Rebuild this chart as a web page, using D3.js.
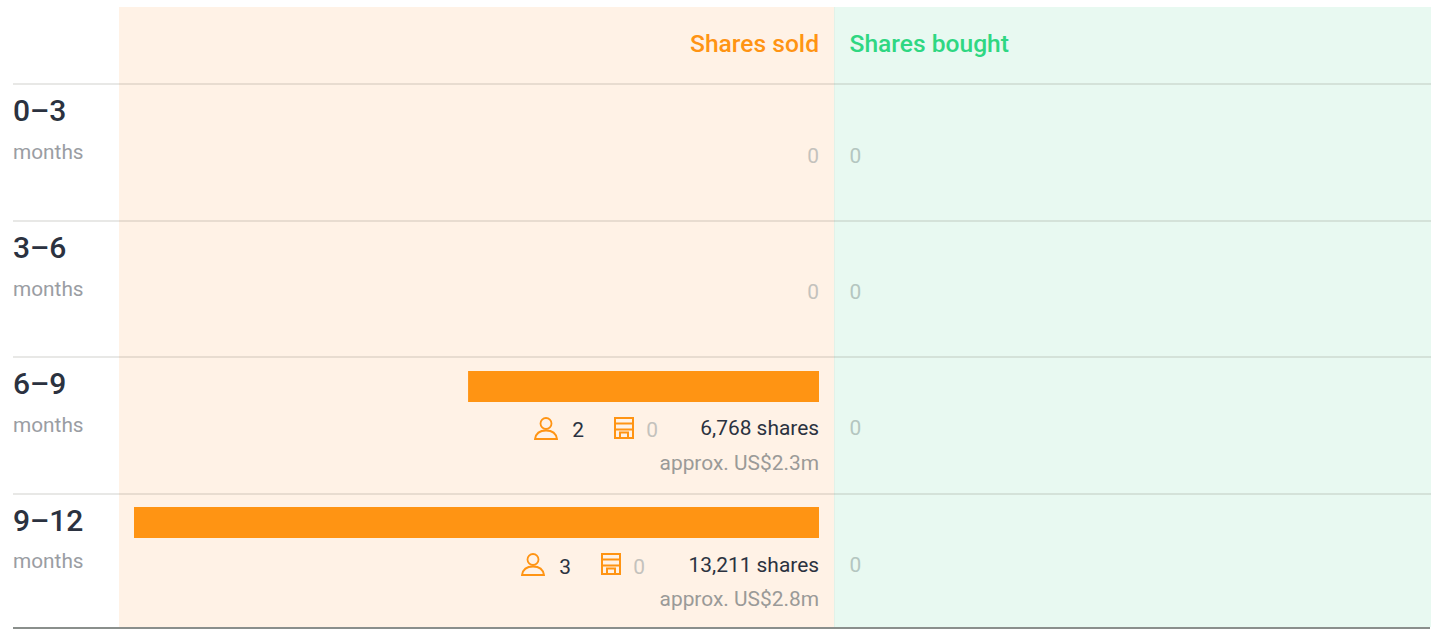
<!DOCTYPE html>
<html><head><meta charset="utf-8">
<script src="https://cdnjs.cloudflare.com/ajax/libs/d3/7.8.5/d3.min.js"></script>
<style>html,body{margin:0;padding:0;background:#fff;overflow:hidden}svg{display:block;font-family:Roboto,sans-serif}</style>
</head><body><svg id="c" width="1437" height="631"></svg>
<script>
const periods = ["0–3","3–6","6–9","9–12"];
const sharesSold = [0,0,6768,13211];
const sharesBought = [0,0,0,0];
const individuals = [0,0,2,3];
const companies = [0,0,0,0];
const approxValue = ["","","approx. US$2.3m","approx. US$2.8m"];
const unitLabel = "months";
const headers = ["Shares sold","Shares bought"];

const svg = d3.select("#c");
const x = d3.scaleLinear().domain([0,13211]).range([0,685]);
const rowY = d3.scalePoint().domain(periods).range([84.1,493.4]);
const soldRight = 819, boughtLeft = 849.5, midX = 834;
const fmt = d3.format(",");
const orange = "#ff9413";

svg.append("rect").attr("x",119).attr("y",7).attr("width",midX-119).attr("height",620).attr("fill","#fff2e6");
svg.append("rect").attr("x",midX).attr("y",7).attr("width",1431-midX).attr("height",620).attr("fill","#e8f9f1");
svg.append("rect").attr("x",midX).attr("y",7).attr("width",1).attr("height",620).attr("fill","#4a4a3a").attr("opacity",0.04);

svg.append("text").attr("x",soldRight).attr("y",52).attr("text-anchor","end").attr("font-weight",500).attr("fill",orange).attr("font-size",24.6).text(headers[0]);
svg.append("text").attr("x",boughtLeft).attr("y",52).attr("font-weight",500).attr("fill","#2fd782").attr("font-size",24.6).text(headers[1]);

const personIcon = (g,cx,y) => {
  g.append("circle").attr("cx",cx).attr("cy",y+6.5).attr("r",5.5).attr("fill","none").attr("stroke",orange).attr("stroke-width",1.8);
  g.append("path").attr("d",`M${cx-11},${y+22} C${cx-10},${y+15.5} ${cx-5},${y+13.5} ${cx},${y+13.5} C${cx+5},${y+13.5} ${cx+10},${y+15.5} ${cx+11},${y+22} Z`).attr("fill","none").attr("stroke",orange).attr("stroke-width",1.8);
};
const buildingIcon = (g,l,y) => {
  const s = g.append("g").attr("fill","none").attr("stroke",orange).attr("stroke-width",2);
  s.append("rect").attr("x",l+1).attr("y",y+1).attr("width",18).attr("height",20);
  s.append("path").attr("d",`M${l+1},${y+6.5}H${l+19}M${l+1},${y+12.5}H${l+19}M${l+6},${y+21}V${y+15.5}H${l+14}V${y+21}`);
};

periods.forEach((p,i)=>{
  const y0 = rowY(p);
  svg.append("rect").attr("x",13).attr("y",Math.round(y0+0.2)-1).attr("width",1418).attr("height",2).attr("fill","#4a4a3a").attr("opacity",0.13);
  svg.append("text").attr("x",13).attr("y",y0+37.15).attr("font-size",30).attr("font-weight",500).attr("fill","#2b3240").text(p);
  svg.append("text").attr("x",13).attr("y",y0+75).attr("font-size",20.8).attr("fill","#9a9da3").text(unitLabel);
  svg.append("text").attr("x",boughtLeft).attr("y",y0+78.45).attr("font-size",20.9).attr("fill","#b4c6c0").text(fmt(sharesBought[i]));
  if(sharesSold[i]===0){
    svg.append("text").attr("x",soldRight).attr("y",y0+78.45).attr("text-anchor","end").attr("font-size",20.9).attr("fill","#c4c2bd").text("0");
  } else {
    const w = x(sharesSold[i]);
    svg.append("rect").attr("x",soldRight-w).attr("y",Math.round(y0+14)).attr("width",w).attr("height",31).attr("fill",orange);
    const g = svg.append("g");
    const tb = y0+78.45;
    const label = fmt(sharesSold[i]);
    g.append("text").attr("x",soldRight).attr("y",tb).attr("text-anchor","end").attr("font-size",20.9).attr("fill","#2b3240").text(label+" shares");
    const r = soldRight - 118 - 13*(label.length-5);
    g.append("text").attr("x",r-43).attr("y",y0+80.2).attr("text-anchor","end").attr("font-size",20.9).attr("fill","#c4c2bd").text(fmt(companies[i]));
    buildingIcon(g,r-87,Math.round(y0)+60);
    g.append("text").attr("x",r-117).attr("y",y0+80.2).attr("text-anchor","end").attr("font-size",20.9).attr("fill","#2b3240").text(fmt(individuals[i]));
    personIcon(g,r-155,Math.round(y0)+60);
    g.append("text").attr("x",soldRight).attr("y",y0+112.6).attr("text-anchor","end").attr("font-size",20.9).attr("fill","#9a9a98").text(approxValue[i]);
  }
});
svg.append("rect").attr("x",13).attr("y",627).attr("width",1417).attr("height",2).attr("fill","#8a8f8c");
</script></body></html>
